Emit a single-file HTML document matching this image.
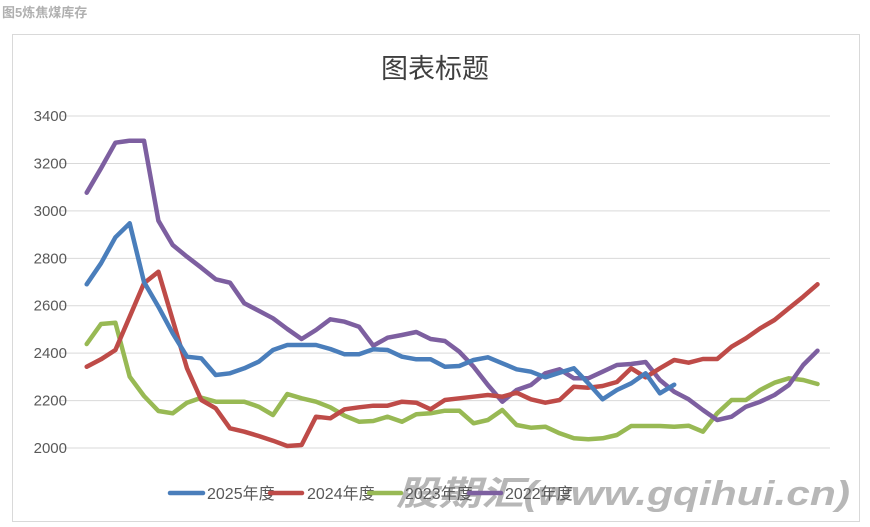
<!DOCTYPE html>
<html><head><meta charset="utf-8"><style>
body{margin:0;background:#fff;width:870px;height:527px;overflow:hidden;font-family:"Liberation Sans","Noto Sans CJK SC",sans-serif}
</style></head><body>
<svg id="s" width="870" height="527" xmlns="http://www.w3.org/2000/svg" style="position:absolute;left:0;top:0">
<text x="2" y="17" font-size="13" font-weight="bold" fill="#b0b0b0" font-family="Liberation Sans,Noto Sans CJK SC,sans-serif">图5炼焦煤库存</text>
<rect x="12.5" y="34.5" width="847" height="487" fill="#fff" stroke="#d9d9d9"/>
<text x="435" y="78" font-size="27" text-anchor="middle" fill="#404040" font-family="Noto Sans CJK SC,sans-serif">图表标题</text>
<g id="grid" stroke="#d9d9d9" stroke-width="1"></g>
<g id="yl" font-size="15" fill="#595959" text-anchor="end"></g>
<g id="lines" fill="none" stroke-width="4.5" stroke-linejoin="round" stroke-linecap="round"></g>
<text x="396" y="505" font-size="34" font-weight="bold" font-style="italic" textLength="454" lengthAdjust="spacingAndGlyphs" fill="rgba(165,165,165,0.8)" font-family="Liberation Sans,Noto Sans CJK SC,sans-serif">股期汇(www.gqihui.cn)</text>
<g font-size="16" fill="#595959" font-family="Liberation Sans,Noto Sans CJK SC,sans-serif">
<line x1="170" y1="493" x2="203" y2="493" stroke="#4a7ebb" stroke-width="4.5" stroke-linecap="round"/><text x="207" y="499">2025年度</text>
<line x1="270" y1="493" x2="302" y2="493" stroke="#be4b48" stroke-width="4.5" stroke-linecap="round"/><text x="307" y="499">2024年度</text>
<line x1="369" y1="493" x2="401" y2="493" stroke="#98b954" stroke-width="4.5" stroke-linecap="round"/><text x="405" y="499">2023年度</text>
<line x1="469" y1="493" x2="501" y2="493" stroke="#7d5fa0" stroke-width="4.5" stroke-linecap="round"/><text x="505" y="499">2022年度</text>
</g>
</svg>
<script>
var NS="http://www.w3.org/2000/svg",g=document.getElementById('grid'),yl=document.getElementById('yl');
for(var v=2000;v<=3400;v+=200){var y=448-(v-2000)*0.2371;
var l=document.createElementNS(NS,'line');l.setAttribute('x1',60);l.setAttribute('x2',830);l.setAttribute('y1',y);l.setAttribute('y2',y);g.appendChild(l);
var t=document.createElementNS(NS,'text');t.setAttribute('x',67);t.setAttribute('y',y+5);t.textContent=v;yl.appendChild(t);}
function z1(a){return a.map(function(v){return 120+v/3})}
function z2(a){return a.map(function(v){return 260+v/3})}
var S=[
["#98b954",z1([672,612,608,770,828,873,880,848,833,845,845,845,860,885,822,835,845,862,887,905,903,890,905,883,880,872]).concat(z2([452,490,480,450,495,503,500,520,535,538,535,525,498,498,498,500,497,515,460,420,420,390,368,355,360,372]))],
["#7d5fa0",z1([218,145,68,62,62,302,375,410,443,478,488,550,572,595,627,657,630,598,605,620,677,653,645,636,657,663]).concat(z2([275,320,375,425,390,375,340,328,355,355,335,315,312,306,360,395,418,450,480,470,440,425,405,375,315,272]))],
["#be4b48",z1([740,718,690,590,490,455,600,745,840,865,925,935,948,962,978,975,890,895,868,862,857,857,845,848,868,840]).concat(z2([415,410,405,410,398,418,428,420,380,383,378,366,325,352,325,300,308,297,297,260,235,205,180,145,110,73]))],
["#4a7ebb",z1([493,430,352,310,486,560,640,710,715,765,760,745,725,690,675,675,675,687,703,703,688,690,710,718,718,740]).concat(z2([318,300,292,310,328,335,352,338,325,370,418,390,370,340,400,374]))]
];
var L=document.getElementById('lines');
S.forEach(function(s){var p=s[1].map(function(y,i){return (86.7+i*14.33).toFixed(1)+","+y.toFixed(1)}).join(" ");
var e=document.createElementNS(NS,'polyline');e.setAttribute('points',p);e.setAttribute('stroke',s[0]);L.appendChild(e);});
</script>
</body></html>
